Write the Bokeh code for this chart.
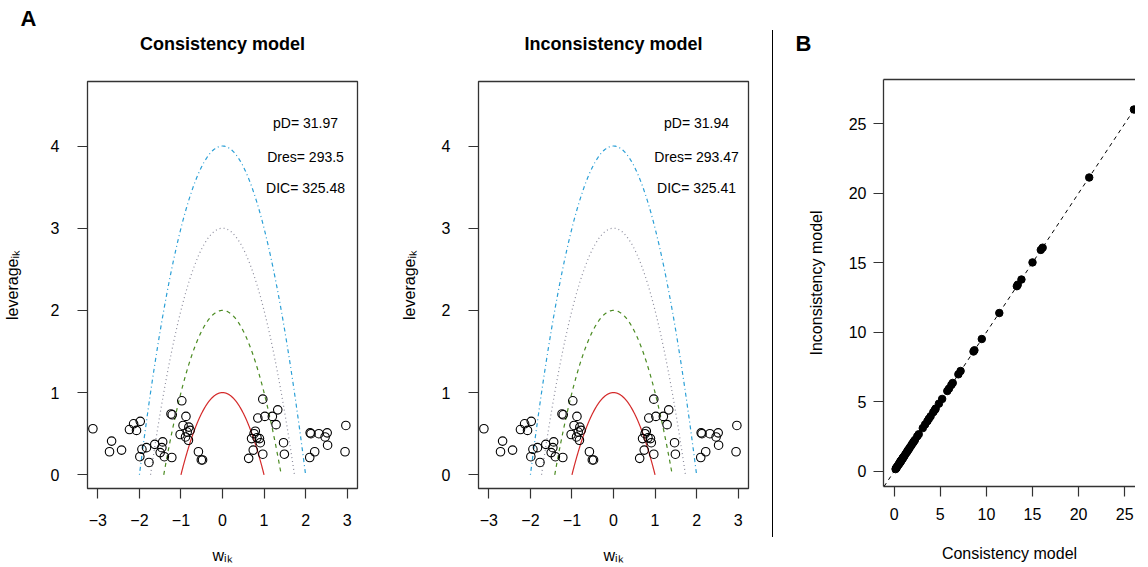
import numpy as np
from bokeh.plotting import figure
from bokeh.models import Range1d, FixedTicker, Slope, LinearAxis, ColumnDataSource, Title, Div
from bokeh.layouts import row
from bokeh.embed import file_html
from bokeh.resources import INLINE
from bokeh.core.properties import value

FONT = "Liberation Sans"

# ---------------- data ----------------
w_cons = [-3.12, -2.67, -2.72, -2.43, -2.24, -2.14, -2.07, -1.98, -1.94, -1.99,
          -1.83, -1.77, -1.63, -1.44, -1.50, -1.46, -1.40, -1.22, -1.24, -1.21,
          -0.98, -0.88, -0.95, -0.81, -0.78, -0.85, -1.02, -0.89, -0.82, -0.58,
          -0.51, -0.48,
          0.97, 0.85, 1.02, 1.20, 1.33, 1.29, 0.79, 0.76, 0.83, 0.70,
          0.89, 0.91, 0.74, 0.97, 0.63, 1.47, 1.49, 2.11, 2.13, 2.32,
          2.47, 2.52, 2.53, 2.22, 2.10, 2.97, 2.95]
lev_cons = [0.56, 0.41, 0.28, 0.30, 0.55, 0.62, 0.54, 0.65, 0.31, 0.22,
            0.33, 0.15, 0.37, 0.40, 0.27, 0.33, 0.22, 0.21, 0.74, 0.73,
            0.90, 0.71, 0.60, 0.58, 0.54, 0.52, 0.49, 0.46, 0.42, 0.28,
            0.18, 0.18,
            0.92, 0.69, 0.71, 0.71, 0.79, 0.61, 0.53, 0.50, 0.45, 0.44,
            0.44, 0.39, 0.30, 0.25, 0.20, 0.39, 0.25, 0.51, 0.50, 0.50,
            0.46, 0.51, 0.36, 0.28, 0.21, 0.60, 0.28]
w_incons = list(w_cons)
lev_incons = list(lev_cons)

curve_levels = [1, 2, 3, 4]
curve_colors = ["#d42a2a", "#4b8b22", "#8c8c9c", "#2a9fd6"]
curve_dashes = ["solid", "4 4", "1 3", "1 3 4 3"]

stats_cons = ["pD= 31.97", "Dres= 293.5", "DIC= 325.48"]
stats_incons = ["pD= 31.94", "Dres= 293.47", "DIC= 325.41"]
stats_x = [2.0, 2.0, 2.0]
stats_y = [4.28, 3.87, 3.49]

dev_cons = [0.15, 0.20, 0.23, 0.26, 0.34, 0.40, 0.49, 0.55, 0.58, 0.61, 0.62, 0.66,
            0.67, 0.69, 0.72, 0.77, 0.79, 0.83, 0.90, 0.94, 0.96, 1.04, 1.12,
            1.23, 1.35, 1.44, 1.49, 1.60, 1.70, 1.85, 1.96, 2.07, 2.13, 2.25,
            2.50, 2.66, 3.10, 3.35, 3.60, 3.76, 3.95, 4.24, 4.41, 4.50, 4.85,
            5.20, 5.76, 5.94, 6.20, 6.35, 6.96, 7.20, 8.60, 8.70, 9.50, 11.4,
            13.3, 13.4, 13.8, 15.0, 15.9, 16.1, 21.15, 26.0]
dev_incons = [0.15, 0.21, 0.23, 0.27, 0.34, 0.41, 0.49, 0.55, 0.59, 0.61, 0.62, 0.66,
              0.68, 0.69, 0.72, 0.77, 0.80, 0.83, 0.90, 0.95, 0.96, 1.04, 1.12,
              1.24, 1.35, 1.44, 1.50, 1.60, 1.71, 1.85, 1.97, 2.07, 2.14, 2.25,
              2.51, 2.66, 3.10, 3.36, 3.60, 3.77, 3.95, 4.25, 4.41, 4.51, 4.86,
              5.20, 5.77, 5.94, 6.21, 6.35, 6.97, 7.21, 8.61, 8.70, 9.51, 11.38,
              13.31, 13.42, 13.79, 15.02, 15.92, 16.08, 21.13, 26.02]

x_ticks_a = [-3, -2, -1, 0, 1, 2, 3]
y_ticks_a = [0, 1, 2, 3, 4]
ticks_b = [0, 5, 10, 15, 20, 25]

AX = "#333333"


def minus(t):
    return str(t).replace("-", "\u2212")


def style_axes(p):
    for ax in p.axis:
        ax.major_tick_out = 10
        ax.major_tick_in = 0
        ax.minor_tick_line_color = None
        ax.major_tick_line_color = AX
        ax.major_tick_line_width = 1.2
        ax.major_label_text_font = FONT
        ax.major_label_text_font_size = "16px"
        ax.major_label_text_color = "black"
        ax.axis_label_text_font = FONT
        ax.axis_label_text_font_size = "16px"
        ax.axis_label_text_font_style = "normal"
        ax.axis_label_text_color = "black"
    p.xgrid.visible = False
    p.ygrid.visible = False


def make_title(text, size, align, offset, standoff):
    return Title(text=text, align=align, offset=offset, standoff=standoff,
                 text_font=FONT, text_font_size=size, text_font_style="bold",
                 text_color="black")


def heading_axis(text, standoff, line=None):
    return LinearAxis(ticker=FixedTicker(ticks=[]), major_tick_out=0, major_tick_in=0,
                      minor_tick_line_color=None, major_label_text_font_size="0px",
                      major_label_standoff=0, axis_line_color=line, axis_line_width=1.3,
                      axis_label=text, axis_label_standoff=standoff,
                      axis_label_text_font=FONT, axis_label_text_font_size="18px",
                      axis_label_text_font_style="bold", axis_label_text_color="black")


def leverage_plot(title, w, lev, stats, bl, br, lab_standoff):
    p = figure(frame_width=270, frame_height=407,
               x_range=Range1d(-3.25, 3.25), y_range=Range1d(-0.167, 4.785),
               output_backend="svg", toolbar_location=None, title=None,
               min_border_left=bl, min_border_right=br,
               min_border_top=81, min_border_bottom=60)
    p.frame_align = False
    p.outline_line_color = AX
    p.outline_line_width = 1.3
    style_axes(p)
    for ax in p.axis:
        ax.axis_line_color = None
    p.xaxis.ticker = FixedTicker(ticks=x_ticks_a)
    p.yaxis.ticker = FixedTicker(ticks=y_ticks_a)
    p.xaxis.major_label_overrides = {t: minus(t) for t in x_ticks_a}
    p.xaxis.axis_label = "w\u1d62\u2096"
    p.yaxis.axis_label = "leverage\u1d62\u2096"
    p.xaxis.major_label_standoff = 15
    p.xaxis.axis_label_standoff = 18
    p.yaxis.major_label_standoff = 18
    p.yaxis.axis_label_standoff = lab_standoff
    p.yaxis.major_label_orientation = "horizontal"
    p.add_layout(heading_axis(title, 28), "above")

    for c, col, dash in zip(curve_levels, curve_colors, curve_dashes):
        xs = np.linspace(-np.sqrt(c), np.sqrt(c), 300)
        p.line(xs, c - xs ** 2, line_color=col, line_dash=dash, line_width=1.2)

    p.scatter(w, lev, size=8.5, marker="circle", fill_color=None,
              line_color="black", line_width=1.1)

    src = ColumnDataSource(dict(x=stats_x, y=stats_y, t=stats))
    p.text("x", "y", text="t", source=src, text_font=value(FONT),
           text_font_size="14px", text_align="center", text_baseline="middle",
           text_color="black")
    return p


p1 = leverage_plot("Consistency model", w_cons, lev_cons, stats_cons, 87, 40, 27)
p1.add_layout(make_title("A", "22px", "left", -67, 0), "above")
p2 = leverage_plot("Inconsistency model", w_incons, lev_incons, stats_incons, 77, 12, 21)

# separator between panels A and B
sep = Div(text='<div style="margin-left:7px;margin-top:25px;width:1.4px;'
               'height:507px;background:#000000;"></div>',
          width=14, height=541)

# panel B
p3 = figure(frame_width=252, frame_height=407,
            x_range=Range1d(-1.16, 26.17), y_range=Range1d(-1.10, 28.18),
            output_backend="svg", toolbar_location=None, title=None,
            min_border_left=99, min_border_right=0, min_border_top=79, min_border_bottom=60)
p3.frame_align = False
p3.outline_line_color = None
style_axes(p3)
for ax in p3.axis:
    ax.axis_line_color = AX
    ax.axis_line_width = 1.3
p3.xaxis.ticker = FixedTicker(ticks=ticks_b)
p3.yaxis.ticker = FixedTicker(ticks=ticks_b)
p3.xaxis.axis_label = "Consistency model"
p3.yaxis.axis_label = "Inconsistency model"
p3.xaxis.major_label_standoff = 11
p3.xaxis.axis_label_standoff = 22
p3.yaxis.major_label_standoff = 7
p3.yaxis.axis_label_standoff = 21
p3.yaxis.major_label_orientation = "horizontal"
p3.add_layout(heading_axis("", 0, line=AX), "above")
p3.add_layout(make_title("B", "22px", "left", -88, 47), "above")
p3.add_layout(Slope(gradient=1, y_intercept=0, line_color="black", line_dash="4 4", line_width=1))
p3.scatter(dev_cons, dev_incons, size=7.5, marker="circle", fill_color="black", line_color="black")

layout = row(p1, p2, sep, p3, spacing=0)
open("out.html", "w").write(file_html(layout, INLINE))
